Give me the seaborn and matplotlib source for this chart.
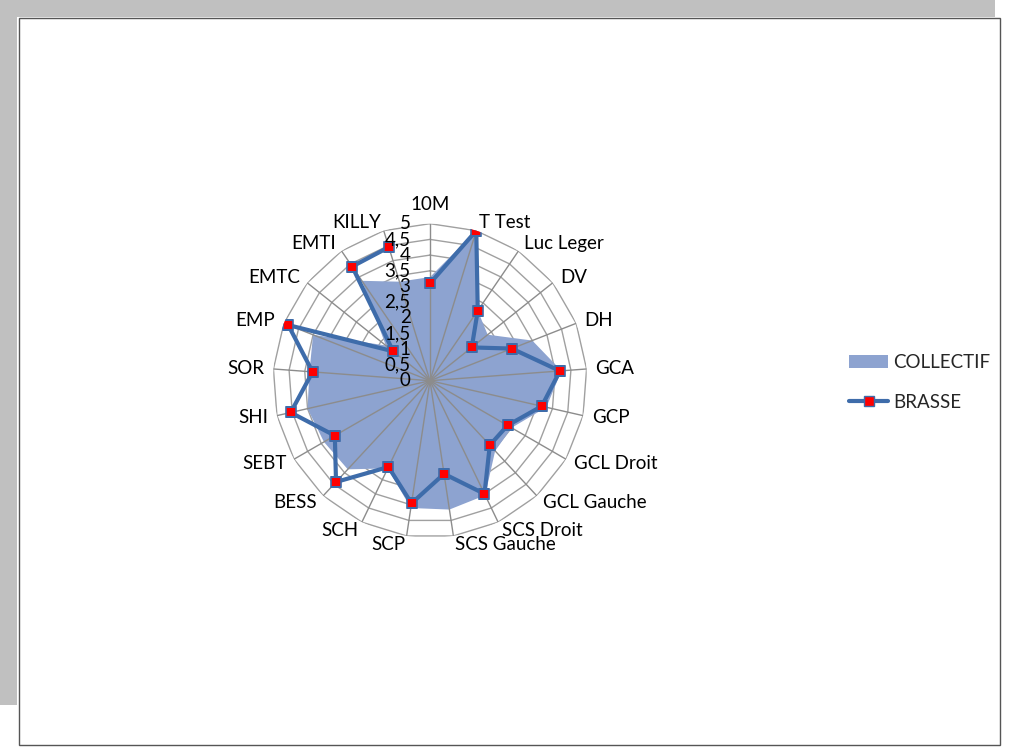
import numpy as np
import pandas as pd
import matplotlib
matplotlib.use('Agg')
import matplotlib.pyplot as plt
import seaborn as sns
from matplotlib.patches import Rectangle, Patch
from matplotlib.lines import Line2D

categories = ['10M', 'T Test', 'Luc Leger', 'DV', 'DH', 'GCA', 'GCP', 'GCL Droit', 'GCL Gauche',
              'SCS Droit', 'SCS Gauche', 'SCP', 'SCH', 'BESS', 'SEBT', 'SHI', 'SOR', 'EMP',
              'EMTC', 'EMTI', 'KILLY']
collectif = [3.3, 5.0, 2.7, 2.35, 3.5, 4.2, 3.8, 3.0, 3.05, 4.05, 4.15, 4.1, 3.1, 3.85,
             3.9, 4.0, 3.85, 4.0, 1.8, 3.85, 3.3]
brasse = [3.1, 5.0, 2.7, 1.7, 2.8, 4.15, 3.65, 2.85, 2.8, 4.0, 3.0, 3.95, 3.05, 4.4,
          3.5, 4.55, 3.75, 4.85, 1.5, 4.4, 4.45]
ring_values = [0, 0.5, 1, 1.5, 2, 2.5, 3, 3.5, 4, 4.5, 5]
ring_labels = ['0', '0,5', '1', '1,5', '2', '2,5', '3', '3,5', '4', '4,5', '5']

fill_color = '#8da3d0'
line_color = '#3e6caa'
W, H = 1010, 749

sns.set_style('white')
plt.rcParams['font.family'] = ['Lato', 'DejaVu Sans']
fs = 13.5

fig = plt.figure(figsize=(W / 100, H / 100), dpi=100)

# page background: grey shadow + framed white sheet (behind everything)
fig.add_artist(Rectangle((0, 1 - 17 / H), 995 / W, 17 / H, transform=fig.transFigure,
                         facecolor='#c0c0c0', edgecolor='none', zorder=-10))
fig.add_artist(Rectangle((0, 1 - 705 / H), 17 / W, 705 / H, transform=fig.transFigure,
                         facecolor='#c0c0c0', edgecolor='none', zorder=-10))
fig.add_artist(Rectangle((19 / W, 1 - 745 / H), 981 / W, 727 / H, transform=fig.transFigure,
                         facecolor='white', edgecolor='#555555', lw=1, zorder=-9))

# radar axes: centre (430, 381) px, radius 157 px
cx, cy, R = 430, 380.7, 157
ax = fig.add_axes([(cx - R) / W, (H - cy - R) / H, 2 * R / W, 2 * R / H], projection='polar')
ax.set_theta_zero_location('N')
ax.set_theta_direction(-1)
ax.patch.set_alpha(0)

n = len(categories)
theta = np.linspace(0, 2 * np.pi, n, endpoint=False)
theta_c = np.append(theta, theta[0])

# polygon rings (under the fill)
for r in ring_values[1:]:
    ax.plot(theta_c, [r] * (n + 1), color='#a0a0a0', lw=1, zorder=1)

# COLLECTIF area
coll_c = np.append(collectif, collectif[0])
ax.fill(theta_c, coll_c, color=fill_color, lw=0, zorder=2)

# spokes (over the fill)
for t in theta:
    ax.plot([t, t], [0, 5], color='#8c8c8c', lw=1, zorder=3)

# BRASSE line
df = pd.DataFrame({'theta': theta_c, 'value': np.append(brasse, brasse[0])})
sns.lineplot(data=df, x='theta', y='value', ax=ax, sort=False, color=line_color, lw=3,
             marker='s', markersize=7.5, markerfacecolor='#ff0000', markeredgecolor=line_color,
             markeredgewidth=1.2, zorder=5)
ax.set_xlabel('')
ax.set_ylabel('')
ax.set_xticks([])
ax.set_yticks([])
ax.set_ylim(0, 5)
ax.grid(False)
ax.spines['polar'].set_visible(False)

# radial value labels along the top spoke
for v, lab in zip(ring_values, ring_labels):
    ax.annotate(lab, xy=(0, v), xytext=(-14, 0), textcoords='offset points',
                ha='right', va='center', fontsize=fs, color='black', zorder=6,
                annotation_clip=False)

# category labels
pad = 6.5
for t, lab in zip(theta, categories):
    s, c = np.sin(t), np.cos(t)
    if abs(s) < 0.1:
        ha = 'center'
    elif s > 0:
        ha = 'left'
    else:
        ha = 'right'
    if c > 0.99:
        va = 'bottom'
        off = (0, 8)
    else:
        va = 'center'
        off = (pad * s, pad * c)
    ax.annotate(lab, xy=(t, 5), xytext=off, textcoords='offset points',
                ha=ha, va=va, fontsize=fs, color='black', annotation_clip=False)

handles = [Patch(facecolor=fill_color, edgecolor='none'),
           Line2D([0], [0], color=line_color, lw=3, marker='s', markersize=7.5,
                  markerfacecolor='#ff0000', markeredgecolor=line_color)]
fig.legend(handles, ['COLLECTIF', 'BRASSE'], loc='upper left',
           bbox_to_anchor=(849 / W, 1 - 354 / H), frameon=False, fontsize=fs,
           handlelength=2.1, handletextpad=0.25, labelspacing=1.2,
           borderpad=0, borderaxespad=0)

fig.savefig('out.png', dpi=100)
